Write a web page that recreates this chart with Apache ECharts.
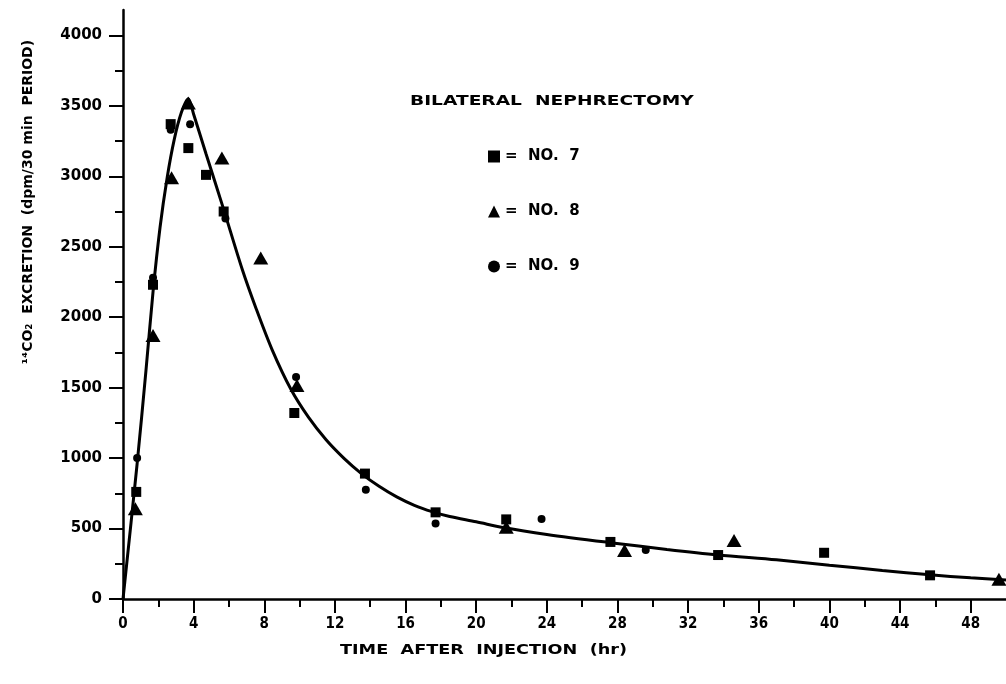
<!DOCTYPE html>
<html>
<head>
<meta charset="utf-8">
<script src="https://cdn.jsdelivr.net/npm/echarts@6/dist/echarts.min.js"></script>
<style>html,body{margin:0;padding:0;background:#fff}#c{width:1006px;height:684px}</style>
</head>
<body>
<div id="c"></div>
<script>
// Fitted curve (hours, dpm / 30 min)
var curveHours = [0, 0.8, 1.3, 1.7, 2.1, 2.5, 2.9, 3.3, 3.7, 4.0, 4.7, 5.7, 6.75, 7.54, 8.44, 9.5, 10.5, 11.5, 12.5, 13.5, 14.5, 15.5, 16.5, 17.5, 18.5, 20, 21.6, 24, 27.6, 30.8, 33.7, 37, 40, 43, 45.7, 48, 50];
var curveValues = [0, 960, 1620, 2180, 2640, 2990, 3260, 3450, 3550, 3440, 3160, 2765, 2340, 2060, 1770, 1490, 1290, 1130, 1000, 890, 800, 725, 665, 620, 585, 548, 505, 458, 400, 352, 313, 278, 240, 203, 172, 150, 135];

// Subject No. 7 (squares)
var no7Hours  = [0.75, 1.7, 2.7, 3.7, 4.7, 5.7, 9.7, 13.7, 17.7, 21.7, 27.6, 33.7, 39.7, 45.7];
var no7Values = [760, 2230, 3370, 3200, 3010, 2750, 1320, 890, 615, 565, 405, 312, 328, 168];

// Subject No. 8 (triangles)
var no8Hours  = [0.7, 1.7, 2.75, 3.7, 5.6, 7.8, 9.85, 21.7, 28.4, 34.6, 49.6];
var no8Values = [640, 1870, 2990, 3520, 3130, 2420, 1515, 510, 345, 415, 140];

// Subject No. 9 (circles)
var no9Hours  = [0.8, 1.7, 2.7, 3.8, 5.8, 9.8, 13.75, 17.7, 23.7, 29.6];
var no9Values = [1000, 2280, 3330, 3370, 2700, 1575, 775, 535, 567, 348];

// Axis ticks
var xMajorTicks = [0, 4, 8, 12, 16, 20, 24, 28, 32, 36, 40, 44, 48];
var xMinorTicks = [2, 6, 10, 14, 18, 22, 26, 30, 34, 38, 42, 46];
var yMajorTicks = [0, 500, 1000, 1500, 2000, 2500, 3000, 3500, 4000];
var yMinorTicks = [250, 750, 1250, 1750, 2250, 2750, 3250, 3750];

var seriesNames = ['NO.  7', 'NO.  8', 'NO.  9'];
var legendTitle = 'BILATERAL  NEPHRECTOMY';
var xTitle = 'TIME  AFTER  INJECTION  (hr)';
var yTitle = '¹⁴CO₂  EXCRETION  (dpm/30 min  PERIOD)';

function pairs(xs, ys) { return xs.map(function (x, i) { return [x, ys[i]]; }); }

var FONT = "'DejaVu Sans', 'Liberation Sans', sans-serif";
var FONT_C = "'DejaVu Sans Condensed', 'DejaVu Sans', sans-serif";
var black = '#000';

var chart = echarts.init(document.getElementById('c'), null, {renderer: 'canvas'});
chart.setOption({
  backgroundColor: '#fff',
  animation: false,
  grid: {left: 123, top: 10, width: 888, height: 589, containLabel: false},
  legend: {
    orient: 'vertical', left: 483, top: 144,
    itemWidth: 12, itemHeight: 12, itemGap: 40,
    formatter: function (n) { return '=  ' + n; },
    textStyle: {fontFamily: FONT, fontWeight: 'bold', fontSize: 15, color: black},
    data: [
      {name: seriesNames[0], icon: 'rect'},
      {name: seriesNames[1], icon: 'triangle'},
      {name: seriesNames[2], icon: 'circle'}
    ]
  },
  graphic: [{
    type: 'text', x: 28, y: 202, rotation: Math.PI / 2,
    style: {text: yTitle, fill: black, font: 'bold 14px ' + FONT, align: 'center', verticalAlign: 'middle'}
  }, {
    type: 'text', x: 410, y: 101, scaleX: 1.33,
    style: {text: legendTitle, fill: black, font: 'bold 14px ' + FONT, align: 'left', verticalAlign: 'middle'}
  }, {
    type: 'text', x: 340, y: 650, scaleX: 1.26,
    style: {text: xTitle, fill: black, font: 'bold 14px ' + FONT, align: 'left', verticalAlign: 'middle'}
  }],
  xAxis: [{
    type: 'value', min: 0, max: 50, interval: 4,
    axisLine: {show: true, lineStyle: {color: black, width: 2.5}},
    axisTick: {show: true, length: 14, customValues: xMajorTicks, lineStyle: {color: black, width: 2}},
    axisLabel: {customValues: xMajorTicks, margin: 18, color: black, fontFamily: FONT_C, fontWeight: 'bold', fontSize: 15},
    splitLine: {show: false}
  }, {
    type: 'value', min: 0, max: 50, position: 'bottom',
    axisLine: {show: false},
    axisTick: {show: true, length: 8, customValues: xMinorTicks, lineStyle: {color: black, width: 2}},
    axisLabel: {show: false},
    splitLine: {show: false}
  }],
  yAxis: [{
    type: 'value', min: 0, max: 4180, interval: 500,
    axisLine: {show: true, lineStyle: {color: black, width: 2.5}},
    axisTick: {show: true, length: 14, customValues: yMajorTicks, lineStyle: {color: black, width: 2}},
    axisLabel: {customValues: yMajorTicks, margin: 21, color: black, fontFamily: FONT, fontWeight: 'bold', fontSize: 15,
      formatter: function (v) { return String(v); }},
    splitLine: {show: false}
  }, {
    type: 'value', min: 0, max: 4180, position: 'left',
    axisLine: {show: false},
    axisTick: {show: true, length: 8, customValues: yMinorTicks, lineStyle: {color: black, width: 2}},
    axisLabel: {show: false},
    splitLine: {show: false}
  }],
  series: [{
    name: 'fit', type: 'line', smooth: 0.3, showSymbol: false, symbol: 'none',
    data: pairs(curveHours, curveValues),
    lineStyle: {color: black, width: 3}, z: 2, clip: false
  }, {
    name: seriesNames[0], type: 'scatter', symbol: 'rect', symbolSize: 10,
    data: pairs(no7Hours, no7Values), itemStyle: {color: black, opacity: 1}, z: 3, clip: false
  }, {
    name: seriesNames[1], type: 'scatter', symbol: 'triangle', symbolSize: [15, 13],
    data: pairs(no8Hours, no8Values), itemStyle: {color: black, opacity: 1}, z: 3, clip: false
  }, {
    name: seriesNames[2], type: 'scatter', symbol: 'circle', symbolSize: 8,
    data: pairs(no9Hours, no9Values), itemStyle: {color: black, opacity: 1}, z: 3, clip: false
  }]
});
</script>
</body>
</html>
